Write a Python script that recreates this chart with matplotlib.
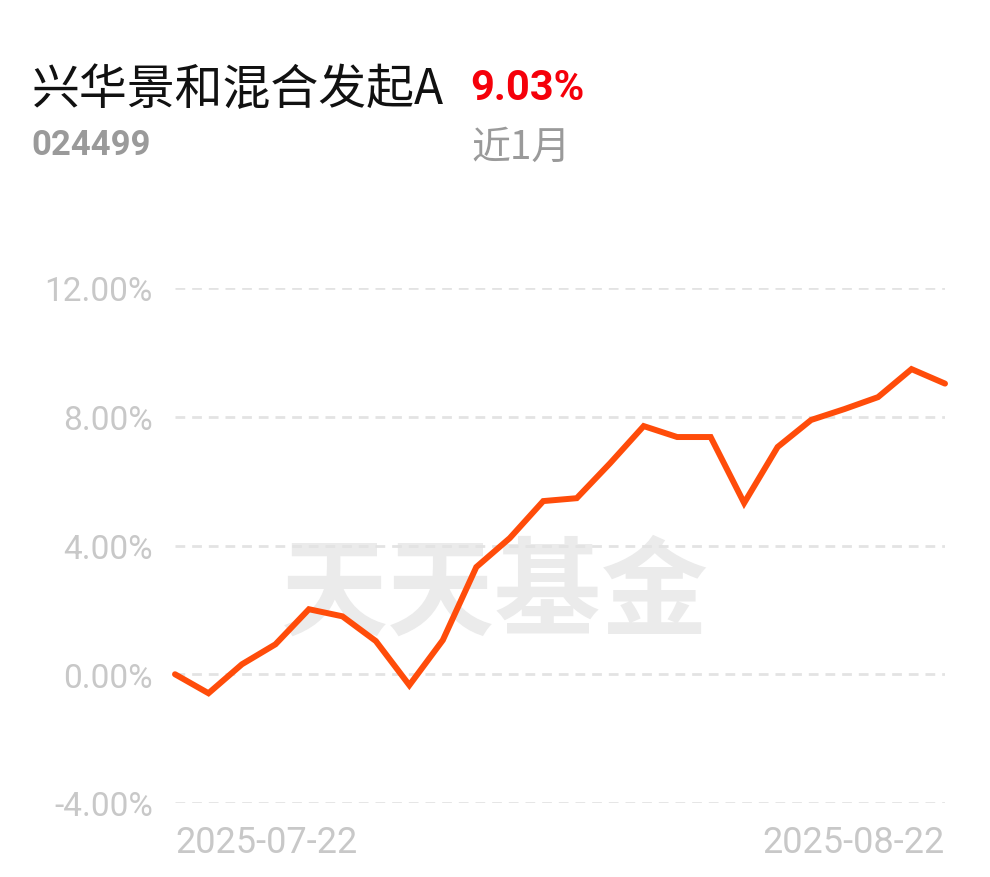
import matplotlib.pyplot as plt

# data (cumulative return, %)
dates = [
    "2025-07-22", "2025-07-23", "2025-07-24", "2025-07-25", "2025-07-28",
    "2025-07-29", "2025-07-30", "2025-07-31", "2025-08-01", "2025-08-04",
    "2025-08-05", "2025-08-06", "2025-08-07", "2025-08-08", "2025-08-11",
    "2025-08-12", "2025-08-13", "2025-08-14", "2025-08-15", "2025-08-18",
    "2025-08-19", "2025-08-20", "2025-08-21", "2025-08-22",
]
returns = [
    0.00, -0.59, 0.31, 0.93, 2.02, 1.80, 1.03, -0.34, 1.06, 3.33,
    4.23, 5.38, 5.47, 6.56, 7.71, 7.37, 7.37, 5.32, 7.06, 7.90,
    8.24, 8.61, 9.48, 9.03,
]
y_ticks = [-4, 0, 4, 8, 12]
y_labels = ["-4.00%", "0.00%", "4.00%", "8.00%", "12.00%"]

fund_name = "兴华景和混合发起A"
fund_code = "024499"
period_return = "9.03%"
period_label = "近1月"

plt.rcParams['font.family'] = ['Roboto', 'Noto Sans CJK SC', 'DejaVu Sans']

fig = plt.figure(figsize=(9.9, 8.78), dpi=100)
ax = fig.add_axes([175 / 990, 74 / 878, 770 / 990, 515 / 878])

x = list(range(len(dates)))
ax.set_xlim(0, len(dates) - 1)
ax.set_ylim(-4, 12)

# dashed gridlines
for t in y_ticks:
    ax.axhline(t, color="#e3e3e3", lw=2, dashes=(3.5, 2.5), zorder=1)

# watermark
ax.text(0.415, 0.405, "天天基金", transform=ax.transAxes, ha="center", va="center",
        fontsize=77, fontweight="bold", color="#ebebeb",
        family=['Noto Sans CJK SC'], zorder=0)

ax.plot(x, returns, color="#ff4c0a", lw=4.3, solid_joinstyle="miter",
        solid_capstyle="round", clip_on=False, zorder=3)

for s in ax.spines.values():
    s.set_visible(False)
ax.set_yticks(y_ticks)
ax.set_yticklabels(y_labels)
ax.tick_params(axis="y", length=0, pad=16, labelsize=24, labelcolor="#c8c8c8")
ax.set_xticks([])

# x labels: first and last date only
ax.text(0, -0.0757, dates[0], transform=ax.transAxes, ha="left", va="center",
        fontsize=26, color="#c8c8c8")
ax.text(1, -0.0757, dates[-1], transform=ax.transAxes, ha="right", va="center",
        fontsize=26, color="#c8c8c8")

# header
fig.text(32 / 990, 1 - 90 / 878, fund_name, ha="left", va="center",
         fontsize=34.5, color="#111111", family=['Noto Sans CJK SC'])
fig.text(470 / 990, 1 - 89 / 878, period_return, ha="left", va="center",
         fontsize=30, fontweight="bold", color="#f5000a", family=['Roboto'])
fig.text(31 / 990, 1 - 146 / 878, fund_code, ha="left", va="center",
         fontsize=25, fontweight="bold", color="#9a9a9a", family=['Roboto'])
fig.text(471 / 990, 1 - 148 / 878, period_label, ha="left", va="center",
         fontsize=28, color="#9a9a9a", family=['Noto Sans CJK SC'])

fig.savefig("out.png", dpi=100)
